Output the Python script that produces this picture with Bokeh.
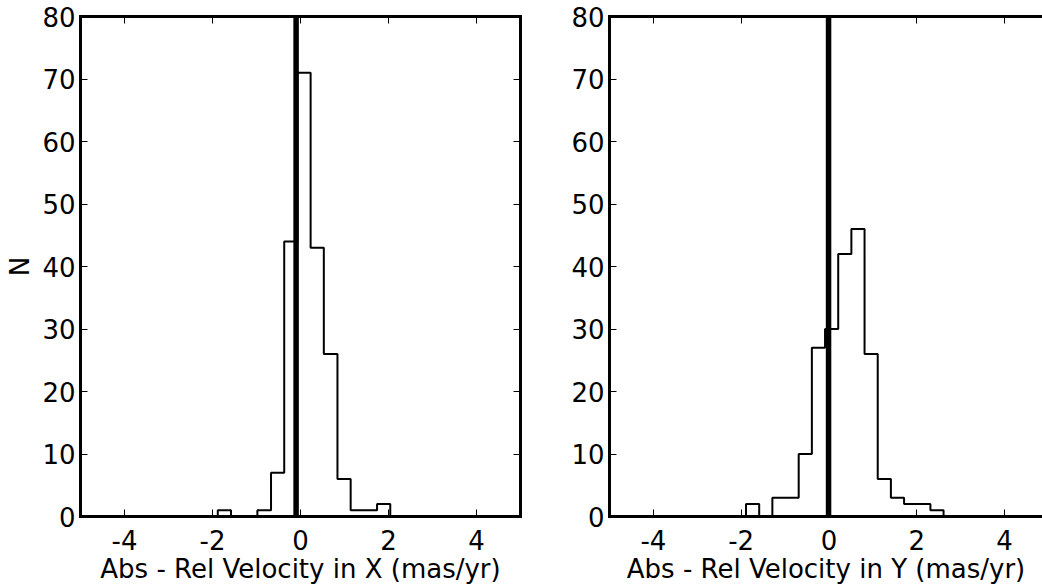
import numpy as np
from bokeh.plotting import figure
from bokeh.layouts import row
from bokeh.models import Range1d, LinearAxis, FixedTicker, Span
from bokeh.embed import file_html
from bokeh.resources import INLINE

# ---- data ----
x_edges = [-1.88, -1.58, -1.28, -0.98, -0.67, -0.37, -0.07, 0.23, 0.53, 0.84, 1.14, 1.44, 1.74, 2.04]
x_counts = [1, 0, 0, 1, 7, 44, 71, 43, 26, 6, 1, 1, 2]
x_marker = -0.10

y_edges = [-1.89, -1.59, -1.29, -0.99, -0.69, -0.39, -0.09, 0.21, 0.51, 0.81, 1.11, 1.41, 1.71, 2.01, 2.31, 2.61]
y_counts = [2, 0, 3, 3, 10, 27, 30, 42, 46, 26, 6, 3, 2, 2, 1]
y_marker = -0.01

x_ticks = [-4, -2, 0, 2, 4]
y_ticks = [0, 10, 20, 30, 40, 50, 60, 70, 80]

FONT = "DejaVu Sans"
H = 586
TOP = 16
FRAME_H = 500


def step_outline(edges, counts):
    e = np.asarray(edges, dtype=float)
    c = np.asarray(counts, dtype=float)
    xs = np.concatenate([[e[0]], np.repeat(e, 2)[1:-1], [e[-1]]])
    ys = np.concatenate([[0.0], np.repeat(c, 2), [0.0]])
    return xs, ys


def make_axis(ticks, labels=True, label=None, standoff=5, label_standoff=5):
    ax = LinearAxis(ticker=FixedTicker(ticks=ticks))
    ax.major_tick_in = 7
    ax.major_tick_out = 0
    ax.major_tick_line_color = "black"
    ax.major_tick_line_width = 1
    ax.minor_tick_line_color = None
    ax.axis_line_color = "black"
    ax.axis_line_width = 3
    ax.axis_line_cap = "square"
    ax.major_label_text_font = FONT
    ax.major_label_text_color = "black"
    if labels:
        ax.major_label_text_font_size = "26px"
        ax.major_label_standoff = standoff
        ax.major_label_overrides = {t: str(t) for t in ticks}
    else:
        ax.major_label_overrides = {t: "" for t in ticks}
        ax.major_label_text_font_size = "0px"
        ax.major_label_standoff = 0
    if label:
        ax.axis_label = label
        ax.axis_label_text_font = FONT
        ax.axis_label_text_font_size = "26px"
        ax.axis_label_text_font_style = "normal"
        ax.axis_label_text_color = "black"
        ax.axis_label_standoff = label_standoff
    return ax


def panel(edges, counts, marker, xlabel, ylabel, width, left, right, x_end, right_axis):
    p = figure(width=width, height=H, x_range=Range1d(-5, x_end), y_range=Range1d(0, 80),
               output_backend="svg", toolbar_location=None,
               x_axis_location=None, y_axis_location=None)
    p.min_border_left = left
    p.min_border_right = right
    p.min_border_top = TOP
    p.min_border_bottom = H - TOP - FRAME_H
    p.outline_line_color = None
    p.xgrid.visible = False
    p.ygrid.visible = False
    p.background_fill_color = "white"
    p.border_fill_color = "white"

    p.add_layout(make_axis(x_ticks, True, xlabel, standoff=13, label_standoff=1), "below")
    p.add_layout(make_axis(y_ticks, True, ylabel, standoff=5, label_standoff=4), "left")
    p.add_layout(make_axis(x_ticks, False), "above")
    if right_axis:
        p.add_layout(make_axis(y_ticks, False), "right")

    xs, ys = step_outline(edges, counts)
    p.line(xs, ys, line_color="black", line_width=2)
    p.add_layout(Span(location=marker, dimension="height", line_color="black", line_width=5.5))
    return p


p1 = panel(x_edges, x_counts, x_marker, "Abs - Rel Velocity in X (mas/yr)", "N",
           568, 80, 48, 5, True)
p2 = panel(y_edges, y_counts, y_marker, "Abs - Rel Velocity in Y (mas/yr)", None,
           474, 40, 0, -5 + 434 / 44.0, False)

layout = row(p1, p2)
open("out.html", "w").write(file_html(layout, INLINE))
